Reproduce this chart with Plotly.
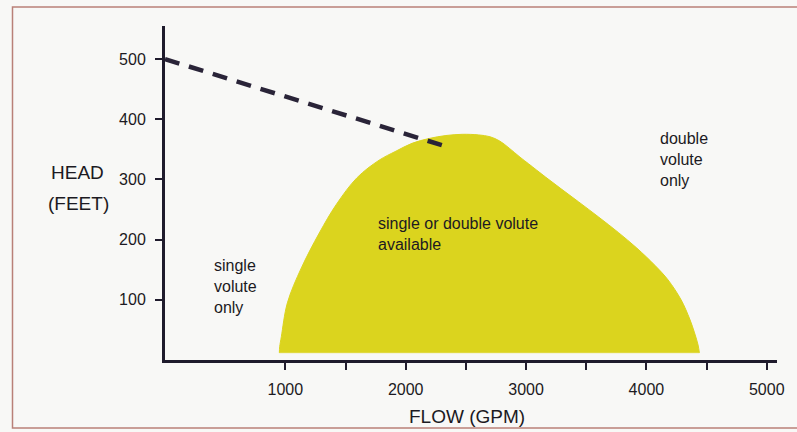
import plotly.graph_objects as go

# ---- data ----
envelope_flow = [950, 953, 967, 1017, 1133, 1282, 1422, 1596, 1779, 1919, 2052, 2193, 2334, 2470, 2607,
                 2700, 2780, 2860, 2950, 3021, 3162, 3294, 3435, 3600, 3766, 3920, 4072, 4180, 4288, 4360,
                 4400, 4429, 4440]
envelope_head = [12, 22, 39, 95, 153, 211, 258, 303, 332, 347, 360, 368, 373, 375, 374,
                 371, 364, 352, 337, 326, 304, 284, 263, 238, 212, 186, 157, 133, 100, 68,
                 45, 25, 12]
envelope_base = 12

dash_flow = [0, 2300]
dash_head = [500, 357]

x_tickvals = [1000, 1500, 2000, 2500, 3000, 3500, 4000, 4500, 5000]
x_ticktext = ["1000", "", "2000", "", "3000", "", "4000", "", "5000"]
y_tickvals = [100, 200, 300, 400, 500]
y_ticktext = ["100", "200", "300", "400", "500"]

FONT = "Liberation Sans, Arial, sans-serif"
INK = "#1c1a22"
AXIS = "#1f1b2c"
YELLOW = "#dbd41e"

fig = go.Figure()

# flat bottom of the envelope
fig.add_trace(go.Scatter(
    x=[envelope_flow[0], envelope_flow[-1]], y=[envelope_base, envelope_base],
    mode="lines", line=dict(color=YELLOW, width=0.5),
    hoverinfo="skip", showlegend=False,
))
# curved top of the envelope, filled down to the flat bottom
fig.add_trace(go.Scatter(
    x=envelope_flow, y=envelope_head,
    mode="lines", fill="tonexty", fillcolor=YELLOW,
    line=dict(color=YELLOW, width=1, shape="spline", smoothing=1.0),
    hoverinfo="skip", showlegend=False,
))

fig.add_trace(go.Scatter(
    x=dash_flow, y=dash_head, mode="lines",
    line=dict(color="#2a2438", width=4.5, dash="15px,10px"),
    hoverinfo="skip", showlegend=False,
))

ann_font = dict(family=FONT, size=16, color=INK)
fig.add_annotation(x=387, y=122, xref="x", yref="y", text="single<br>volute<br>only",
                   showarrow=False, xanchor="left", yanchor="middle", align="left", font=ann_font)
fig.add_annotation(x=1754, y=210, xref="x", yref="y", text="single or double volute<br>available",
                   showarrow=False, xanchor="left", yanchor="middle", align="left", font=ann_font)
fig.add_annotation(x=4097, y=334, xref="x", yref="y", text="double<br>volute<br>only",
                   showarrow=False, xanchor="left", yanchor="middle", align="left", font=ann_font)

title_font = dict(family=FONT, size=19, color=INK)
fig.add_annotation(x=(77.5 - 165) / 614, y=(360 - 172) / 334, xref="paper", yref="paper",
                   text="HEAD", showarrow=False, xanchor="center", yanchor="middle", font=title_font)
fig.add_annotation(x=(78 - 165) / 614, y=(360 - 203) / 334, xref="paper", yref="paper",
                   text="(FEET)", showarrow=False, xanchor="center", yanchor="middle", font=title_font)
fig.add_annotation(x=(468 - 165) / 614, y=(360 - 416) / 334, xref="paper", yref="paper",
                   text="FLOW (GPM)", showarrow=False, xanchor="center", yanchor="middle", font=title_font)

# scanned-page border
fig.add_shape(type="rect", xref="paper", yref="paper",
              x0=(12 - 165) / 614, x1=(803 - 165) / 614,
              y0=(360 - 428) / 334, y1=(360 - 7) / 334,
              line=dict(color="#b98078", width=1.5), fillcolor="rgba(0,0,0,0)", layer="below")

fig.update_layout(
    width=797, height=432,
    margin=dict(l=165, r=18, t=26, b=72),
    paper_bgcolor="#f8f8f6", plot_bgcolor="#f8f8f6",
    showlegend=False,
    font=dict(family=FONT, color=INK),
)
fig.update_xaxes(
    range=[0, 5085], showgrid=False, zeroline=False,
    showline=True, linecolor=AXIS, linewidth=3,
    tickmode="array", tickvals=x_tickvals, ticktext=x_ticktext,
    ticks="outside", ticklen=7, tickwidth=2, tickcolor=AXIS,
    tickfont=dict(family=FONT, size=16, color=INK), ticklabelstandoff=6,
)
fig.update_yaxes(
    range=[0, 555], showgrid=False, zeroline=False,
    showline=True, linecolor=AXIS, linewidth=3,
    tickmode="array", tickvals=y_tickvals, ticktext=y_ticktext,
    ticks="outside", ticklen=7, tickwidth=2, tickcolor=AXIS,
    tickfont=dict(family=FONT, size=16, color=INK), ticklabelstandoff=6,
)

fig.write_html("out.html", config={"displayModeBar": False},
               post_script="document.body.style.margin='0';document.body.style.overflow='hidden';")
